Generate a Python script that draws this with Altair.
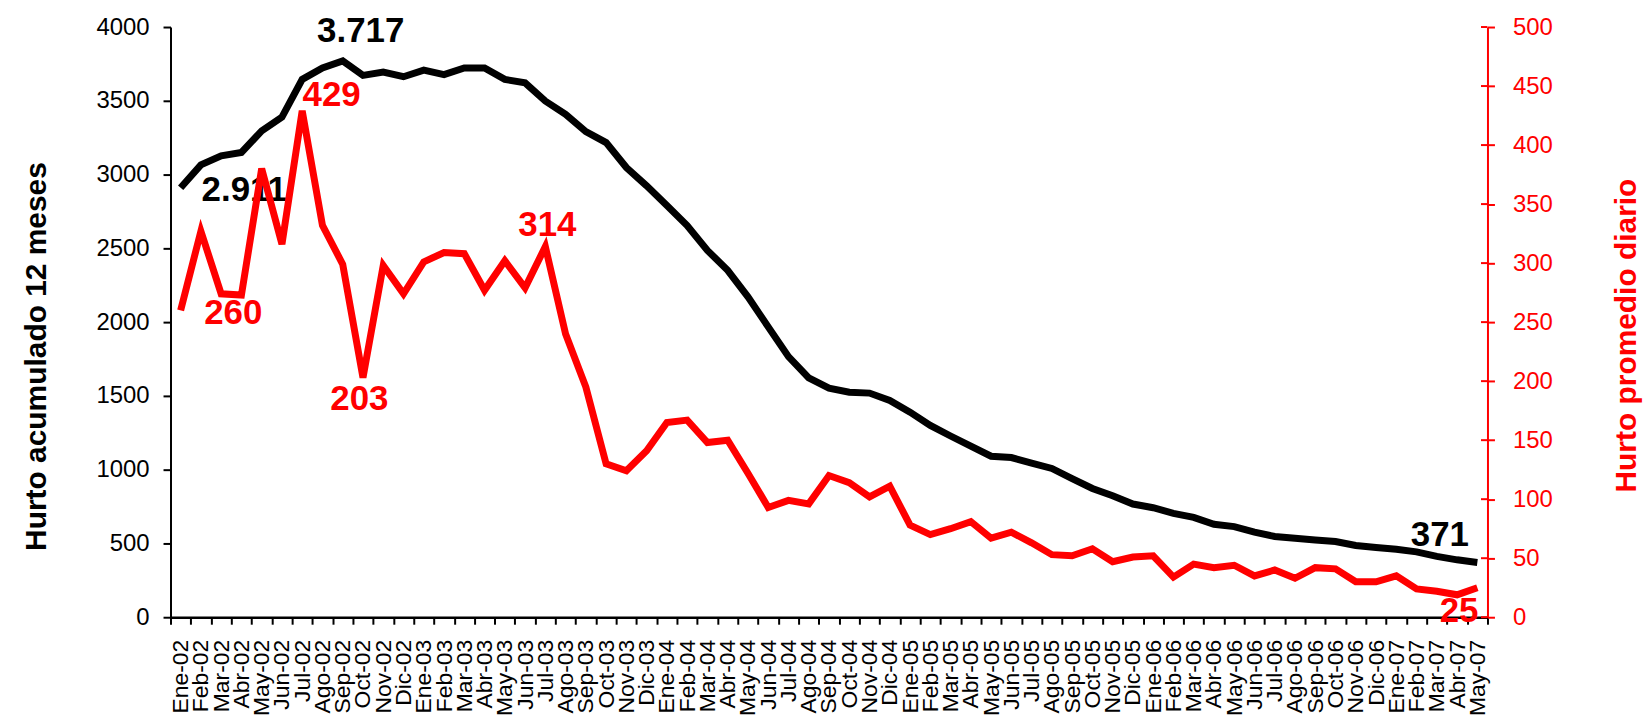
import json
import altair as alt
import pandas as pd

FONT = "Liberation Sans"

months = [
    "Ene-02", "Feb-02", "Mar-02", "Abr-02", "May-02", "Jun-02", "Jul-02", "Ago-02", "Sep-02", "Oct-02", "Nov-02", "Dic-02",
    "Ene-03", "Feb-03", "Mar-03", "Abr-03", "May-03", "Jun-03", "Jul-03", "Ago-03", "Sep-03", "Oct-03", "Nov-03", "Dic-03",
    "Ene-04", "Feb-04", "Mar-04", "Abr-04", "May-04", "Jun-04", "Jul-04", "Ago-04", "Sep-04", "Oct-04", "Nov-04", "Dic-04",
    "Ene-05", "Feb-05", "Mar-05", "Abr-05", "May-05", "Jun-05", "Jul-05", "Ago-05", "Sep-05", "Oct-05", "Nov-05", "Dic-05",
    "Ene-06", "Feb-06", "Mar-06", "Abr-06", "May-06", "Jun-06", "Jul-06", "Ago-06", "Sep-06", "Oct-06", "Nov-06", "Dic-06",
    "Ene-07", "Feb-07", "Mar-07", "Abr-07", "May-07",
]

acumulado_12m = [
    2911, 3066, 3127, 3150, 3296, 3390, 3645, 3723, 3770, 3672, 3694, 3663,
    3708, 3678, 3723, 3723, 3645, 3622, 3498, 3408, 3291, 3217, 3048, 2924,
    2790, 2655, 2486, 2351, 2171, 1968, 1766, 1622, 1552, 1525, 1519, 1469,
    1390, 1300, 1228, 1159, 1091, 1082, 1045, 1008, 940, 873, 823, 767,
    742, 704, 677, 630, 614, 576, 547, 535, 524, 513, 486, 472,
    461, 443, 412, 389, 371,
]

promedio_diario = [
    260, 327, 274, 273, 380, 316, 429, 332, 299, 203, 298, 274,
    301, 309, 308, 277, 302, 279, 314, 240, 195, 130, 124, 141,
    165, 167, 148, 150, 122, 93, 99, 96, 120, 114, 102, 111,
    78, 70, 75, 81, 67, 72, 63, 53, 52, 58, 47, 51,
    52, 34, 45, 42, 44, 35, 40, 33, 42, 41, 30, 30,
    35, 24, 22, 19, 25,
]

left_ticks = [0, 500, 1000, 1500, 2000, 2500, 3000, 3500, 4000]
right_ticks = [0, 50, 100, 150, 200, 250, 300, 350, 400, 450, 500]

black_label_text = ["3.717", "2.911", "371"]
black_label_x = [8.89, 3.14, 62.15]
black_label_y = [3975, 2897, 557]

red_label_text = ["429", "260", "203", "314", "25"]
red_label_x = [7.45, 2.60, 8.82, 18.10, 63.10]
red_label_y = [442, 258, 185, 332, 5]

assert len(months) == len(acumulado_12m) == len(promedio_diario) == 65

W, H = 1321, 592

df = pd.DataFrame({"idx": list(range(len(months))), "mes": months,
                   "acum": acumulado_12m, "prom": promedio_diario})
df_bl = pd.DataFrame({"pos": black_label_x, "val": black_label_y, "txt": black_label_text})
df_rl = pd.DataFrame({"pos": red_label_x, "val": red_label_y, "txt": red_label_text})
df_rt = pd.DataFrame({"t": right_ticks})

xscale = alt.Scale(domain=[-0.5, len(months) - 0.5], nice=False, zero=False)
black_scale = alt.Scale(domain=[0, 4000], nice=False, zero=True)
red_scale = alt.Scale(domain=[0, 500], nice=False, zero=True)

x_label_axis = alt.Axis(
    orient="bottom",
    values=list(range(len(months))),
    labelExpr=f"{json.dumps(months)}[datum.value]",
    ticks=False, tickSize=0, domain=False, grid=False,
    labelAngle=270, labelAlign="right", labelBaseline="middle",
    labelPadding=22, labelFontSize=23, labelFont=FONT, labelColor="black",
    labelOverlap=False, labelFlush=False, title=None,
)
x_tick_axis = alt.Axis(
    orient="bottom",
    values=[i - 0.5 for i in range(len(months) + 1)],
    labels=False, ticks=True, tickSize=7, tickWidth=2, tickColor="black",
    domain=True, domainColor="black", domainWidth=2.5, grid=False, title=None,
)

left_axis = alt.Axis(
    values=left_ticks, format="d", tickSize=7.5, tickWidth=2, tickColor="black",
    domainColor="black", domainWidth=2, grid=False,
    labelFontSize=24, labelFont=FONT, labelColor="black", labelPadding=14,
    title="Hurto acumulado 12 meses", titleFont=FONT, titleFontSize=30,
    titleFontWeight="bold", titleColor="black", titleAngle=270,
    titleX=-134, titleY=330, titleAlign="center", titleBaseline="middle",
)
right_axis = alt.Axis(
    orient="right", values=right_ticks, format="d", tickSize=7, tickWidth=2,
    tickColor="#ff0000", domainColor="#ff0000", domainWidth=2, grid=False,
    labelFontSize=24, labelFont=FONT, labelColor="#ff0000", labelPadding=18,
    title="Hurto promedio diario", titleFont=FONT, titleFontSize=30,
    titleFontWeight="bold", titleColor="#ff0000", titleAngle=270,
    titleX=139, titleY=309, titleAlign="center", titleBaseline="middle",
)

black_line = alt.Chart(df).mark_line(color="black", strokeWidth=7).encode(
    x=alt.X("idx:Q", scale=xscale, axis=x_label_axis),
    y=alt.Y("acum:Q", scale=black_scale, axis=left_axis),
)
black_text = alt.Chart(df_bl).mark_text(
    font=FONT, fontSize=35, fontWeight="bold", color="black",
    align="center", baseline="middle",
).encode(
    x=alt.X("pos:Q", scale=xscale, axis=x_label_axis),
    y=alt.Y("val:Q", scale=black_scale, axis=left_axis),
    text="txt:N",
)

red_line = alt.Chart(df).mark_line(color="#ff0000", strokeWidth=7).encode(
    x=alt.X("idx:Q", scale=xscale, axis=x_tick_axis),
    y=alt.Y("prom:Q", scale=red_scale, axis=right_axis),
)
red_inner_ticks = alt.Chart(df_rt).mark_rule(color="#ff0000", strokeWidth=2).encode(
    x=alt.value(W - 6.5), x2=alt.value(W),
    y=alt.Y("t:Q", scale=red_scale, axis=right_axis),
)
red_text = alt.Chart(df_rl).mark_text(
    font=FONT, fontSize=35, fontWeight="bold", color="#ff0000",
    align="center", baseline="middle",
).encode(
    x=alt.X("pos:Q", scale=xscale, axis=x_tick_axis),
    y=alt.Y("val:Q", scale=red_scale, axis=right_axis),
    text="txt:N",
)

black_group = alt.layer(black_line, black_text)
red_group = alt.layer(red_line, red_inner_ticks, red_text)

chart = (
    alt.layer(black_group, red_group)
    .resolve_scale(y="independent")
    .resolve_axis(x="independent")
    .properties(
        width=W, height=H,
        autosize=alt.AutoSizeParams(type="none"),
        padding={"left": 163, "top": 18, "right": 156, "bottom": 99},
    )
    .configure_view(stroke=None)
)

chart.save("out.html", embed_options={"renderer": "svg", "actions": False})
